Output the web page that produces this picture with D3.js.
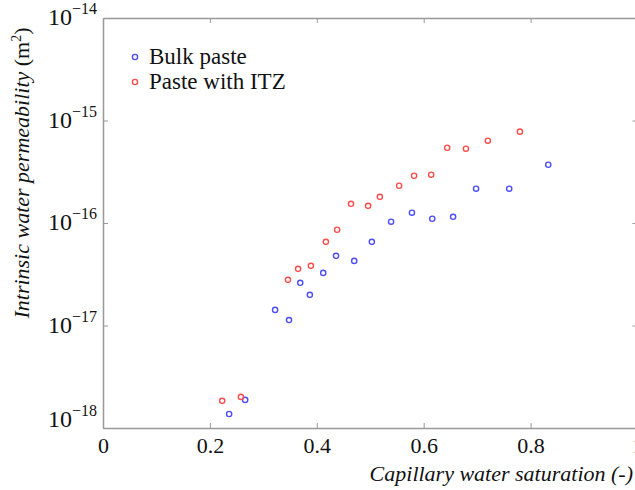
<html>
<head>
<script src="https://d3js.org/d3.v7.min.js"></script>
<style>
  body { margin: 0; background: #fff; }
</style>
</head>
<body>
<svg id="chart" width="635" height="490"></svg>
<script>
// values
var bulkSat = [0.236, 0.266, 0.322, 0.348, 0.369, 0.387, 0.412, 0.436, 0.470, 0.503, 0.539, 0.578, 0.616, 0.655, 0.698, 0.760, 0.833];
var bulkK   = [1.37e-18, 1.88e-18, 1.42e-17, 1.13e-17, 2.61e-17, 1.99e-17, 3.26e-17, 4.78e-17, 4.27e-17, 6.55e-17, 1.03e-16, 1.26e-16, 1.10e-16, 1.15e-16, 2.16e-16, 2.16e-16, 3.70e-16];
var itzSat  = [0.223, 0.258, 0.346, 0.365, 0.389, 0.417, 0.438, 0.464, 0.496, 0.518, 0.554, 0.582, 0.614, 0.644, 0.679, 0.720, 0.780];
var itzK    = [1.84e-18, 2.01e-18, 2.79e-17, 3.57e-17, 3.82e-17, 6.55e-17, 8.59e-17, 1.54e-16, 1.47e-16, 1.80e-16, 2.31e-16, 2.89e-16, 2.96e-16, 5.42e-16, 5.31e-16, 6.35e-16, 7.78e-16];
var xTicks = [0, 0.2, 0.4, 0.6, 0.8, 1];
var xTickLabels = ["0", "0.2", "0.4", "0.6", "0.8", "1"];
var yTicks = [1e-18, 1e-17, 1e-16, 1e-15, 1e-14];
var yTickExp = ["18", "17", "16", "15", "14"];
var seriesNames = ["Bulk paste", "Paste with ITZ"];
var seriesColors = ["#4d4dff", "#ff4d4d"];

var svg = d3.select("#chart");
var mLeft = 103, mRight = 637.5, mTop = 18, mBottom = 428;
var axisColor = "#999";
var serif = "'Liberation Serif', serif";

var x = d3.scaleLinear().domain([0, 1]).range([mLeft, mRight]);
var y = d3.scaleLog().domain([1e-18, 1e-14]).range([mBottom, mTop]);

function styleAxis(g) {
  g.selectAll("path").attr("stroke", axisColor).attr("stroke-width", 1.5);
  g.selectAll("line").attr("stroke", axisColor);
}

// bottom axis
var gx = svg.append("g")
  .attr("transform", "translate(0," + mBottom + ")")
  .call(d3.axisBottom(x).tickValues(xTicks).tickSizeInner(-5).tickSizeOuter(0).tickPadding(9)
    .tickFormat(function(d, i) { return xTickLabels[i]; }));
styleAxis(gx);
gx.attr("font-family", serif);
gx.selectAll("text").attr("font-size", 22).attr("fill", "#111");

// top axis
var gt = svg.append("g")
  .attr("transform", "translate(0," + mTop + ")")
  .call(d3.axisTop(x).tickValues(xTicks).tickSizeInner(-5).tickSizeOuter(0).tickFormat(""));
styleAxis(gt);

// left axis
var gy = svg.append("g")
  .attr("transform", "translate(" + mLeft + ",0)")
  .call(d3.axisLeft(y).tickValues(yTicks).tickSizeInner(-5).tickSizeOuter(0).tickFormat(""));
styleAxis(gy);

// right axis
var gr = svg.append("g")
  .attr("transform", "translate(" + mRight + ",0)")
  .call(d3.axisRight(y).tickValues(yTicks).tickSizeInner(-5).tickSizeOuter(0).tickFormat(""));
styleAxis(gr);

// y tick labels 10^-n
yTicks.forEach(function(v, i) {
  var yy = y(v) + 7;
  if (i == 0) yy = yy - 8;
  var t = svg.append("text")
    .attr("x", 97)
    .attr("y", yy)
    .attr("text-anchor", "end")
    .attr("font-family", serif)
    .attr("fill", "#111")
    .attr("font-size", 24);
  t.append("tspan").text("10");
  t.append("tspan").attr("dy", -11).attr("font-size", 16).text("\u2212" + yTickExp[i]);
});

// points
function drawSeries(xs, ys, color) {
  svg.append("g").selectAll("circle")
    .data(xs)
    .enter().append("circle")
    .attr("cx", function(d) { return x(d); })
    .attr("cy", function(d, i) { return y(ys[i]); })
    .attr("r", 2.6)
    .attr("fill", "none")
    .attr("stroke", color)
    .attr("stroke-width", 1.4);
}
drawSeries(bulkSat, bulkK, seriesColors[0]);
drawSeries(itzSat, itzK, seriesColors[1]);

// legend
seriesNames.forEach(function(name, i) {
  svg.append("circle")
    .attr("cx", 135)
    .attr("cy", 57 + i * 25)
    .attr("r", 2.6)
    .attr("fill", "none")
    .attr("stroke", seriesColors[i])
    .attr("stroke-width", 1.4);
  svg.append("text")
    .attr("x", 149)
    .attr("y", 64 + i * 25)
    .attr("font-family", serif)
    .attr("fill", "#111")
    .attr("font-size", 23)
    .text(name);
});

// axis titles
svg.append("text")
  .attr("x", 633)
  .attr("y", 481)
  .attr("text-anchor", "end")
  .attr("font-family", serif)
  .attr("fill", "#111")
  .attr("font-size", 22)
  .attr("font-style", "italic")
  .text("Capillary water saturation (-)");

var yl = svg.append("text")
  .attr("transform", "translate(29,173) rotate(-90)")
  .attr("text-anchor", "middle")
  .attr("font-family", serif)
  .attr("fill", "#111")
  .attr("font-size", 22);
yl.append("tspan").attr("font-style", "italic").text("Intrinsic water permeability ");
yl.append("tspan").text("(m");
yl.append("tspan").attr("dy", -8).attr("font-size", 14).text("2");
yl.append("tspan").attr("dy", 8).text(")");
</script>
</body>
</html>
